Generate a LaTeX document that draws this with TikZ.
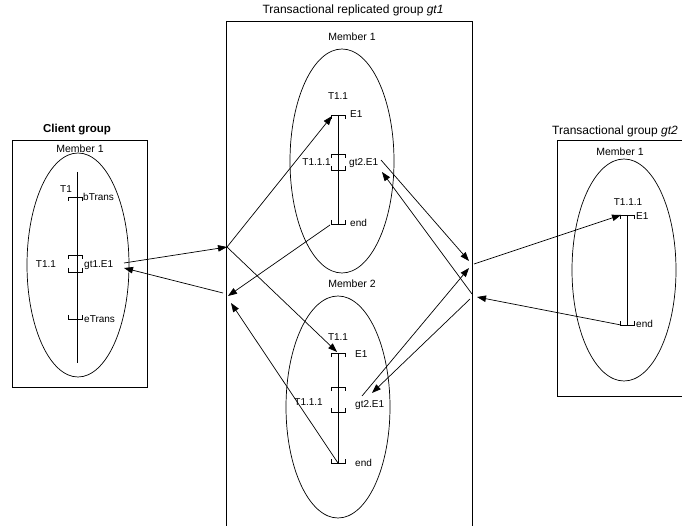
\documentclass[tikz,border=0pt]{standalone}
\usepackage{fontspec}
\setmainfont{Liberation Sans}
\usetikzlibrary{arrows.meta}
\newcommand{\bdn}[2]{\draw[brk] ({#1-7},{#2+4}) -- ({#1-7},#2) -- ({#1+7},#2) -- ({#1+7},{#2+4});}
\newcommand{\bup}[2]{\draw[brk] ({#1-7},{#2-4}) -- ({#1-7},#2) -- ({#1+7},#2) -- ({#1+7},{#2-4});}
\begin{document}
\begin{tikzpicture}[x=1pt,y=-1pt,
  box/.style={draw,line width=0.8pt},
  ell/.style={draw,line width=0.7pt},
  tl/.style={line width=0.9pt},
  brk/.style={line width=0.8pt},
  ttl/.style={font=\fontsize{12}{14}\selectfont,inner sep=0pt},
  mem/.style={font=\fontsize{10.5}{12}\selectfont,inner sep=0pt},
  lab/.style={font=\fontsize{10}{12}\selectfont,inner sep=0pt},
  arr/.style={line width=0.7pt,-{Triangle[length=9pt,width=6.5pt]}},
  ln/.style={line width=0.7pt}]
\useasboundingbox (0,0) rectangle (682,526);
\begin{scope}
\clip (0,0) rectangle (682,526);
% ---------- Client group ----------
\draw[box] (12,140) rectangle (147,387);
\node[ttl,font=\fontsize{11.5}{13}\selectfont\bfseries] (ctitle) at (77,130) {Client group};
\node[mem] (cmem) at (80,149) {Member 1};
\draw[ell] (78,265) ellipse [x radius=51, y radius=112];
\draw[tl] (77,172) -- (77,363);
\bdn{75}{197}
\node[lab] (cT1) at (66,189) {T1};
\node[lab,anchor=west] (cb) at (83,197) {bTrans};
\bdn{75}{255}
\bup{75}{272}
\node[lab] (cT11) at (46,264) {T1.1};
\node[lab,anchor=west] (cgt) at (84,265) {gt1.E1};
\bup{75}{319}
\node[lab,anchor=west] (ce) at (84,319) {eTrans};
% ---------- Replicated group gt1 ----------
\draw[box] (226,21) -- (226,540) (226,21) -- (472,21) -- (472,540);
\node[ttl] (mtitle) at (353,10) {Transactional replicated group \textit{gt1}};
\node[mem] (m1) at (352,37) {Member 1};
\draw[ell] (342,161) ellipse [x radius=52, y radius=112];
\node[lab] (m1T) at (338,96) {T1.1};
\draw[tl] (338,115) -- (338,224);
\bdn{338}{115}
\node[lab,anchor=west] (m1E) at (350,114) {E1};
\bdn{338}{154}
\bup{338}{170}
\node[lab,anchor=east] (m1T111) at (331,162) {T1.1.1};
\node[lab,anchor=west] (m1gt) at (349,163) {gt2.E1};
\bup{338}{224}
\node[lab,anchor=west] (m1end) at (350,223) {end};
\node[mem] (m2) at (352,284) {Member 2};
\draw[ell] (338,407) ellipse [x radius=52, y radius=111];
\node[lab] (m2T) at (338,337) {T1.1};
\draw[tl] (338,353) -- (338,463);
\bdn{338}{353}
\node[lab,anchor=west] (m2E) at (355,354) {E1};
\bdn{338}{387}
\bup{338}{412}
\node[lab,anchor=east] (m2T111) at (323,402) {T1.1.1};
\node[lab,anchor=west] (m2gt) at (355,405) {gt2.E1};
\bup{338}{463}
\node[lab,anchor=west] (m2end) at (355,463) {end};
% ---------- Transactional group gt2 ----------
\draw[box] (557,140) rectangle (700,396);
\node[ttl,anchor=base west] (rtitle) at (552,135) {Transactional group \textit{gt2}};
\node[mem] (r1) at (620,152) {Member 1};
\draw[ell] (624,270) ellipse [x radius=52, y radius=111];
\node[lab] (rT) at (628,202) {T1.1.1};
\draw[tl] (627,215) -- (627,325);
\bdn{627}{215}
\node[lab,anchor=west] (rE) at (636,216) {E1};
\bup{627}{325}
\node[lab,anchor=west] (rend) at (636,324) {end};
% ---------- coordinates ----------
\coordinate (cOut) at (124,263);
\coordinate (cIn) at (124,268);
\coordinate (jL1) at (227,247);
\coordinate (jL2) at (223,293);
\coordinate (jL3) at (228,296);
\coordinate (jL4) at (231,303);
\coordinate (m1Ept) at (332,116);
\coordinate (m2Ept) at (337,352);
\coordinate (m1endpt) at (330,225);
\coordinate (m2endpt) at (338,463);
\coordinate (m1gtOut) at (381,160);
\coordinate (m1gtIn) at (382,172);
\coordinate (m2gtOut) at (362,396);
\coordinate (m2gtIn) at (372,393);
\coordinate (jR1) at (469,261);
\coordinate (jR2) at (469,268);
\coordinate (jR3) at (472,294);
\coordinate (jR4) at (470,299);
\coordinate (jR5) at (474,264);
\coordinate (jR6) at (477,297);
\coordinate (rEpt) at (621,215);
\coordinate (rendpt) at (621,325);
% ---------- connectors ----------
\draw[arr] (cOut) -- (jL1);
\draw[arr] (jL2) -- (cIn);
\draw[arr] (jL1) -- (m1Ept);
\draw[arr] (jL1) -- (m2Ept);
\draw[arr] (m1endpt) -- (jL3);
\draw[arr] (m2endpt) -- (jL4);
\draw[arr] (m1gtOut) -- (jR1);
\draw[arr] (m2gtOut) -- (jR2);
\draw[arr] (jR3) -- (m1gtIn);
\draw[arr] (jR4) -- (m2gtIn);
\draw[arr] (jR5) -- (rEpt);
\draw[arr] (rendpt) -- (jR6);
\end{scope}
\end{tikzpicture}
\end{document}
